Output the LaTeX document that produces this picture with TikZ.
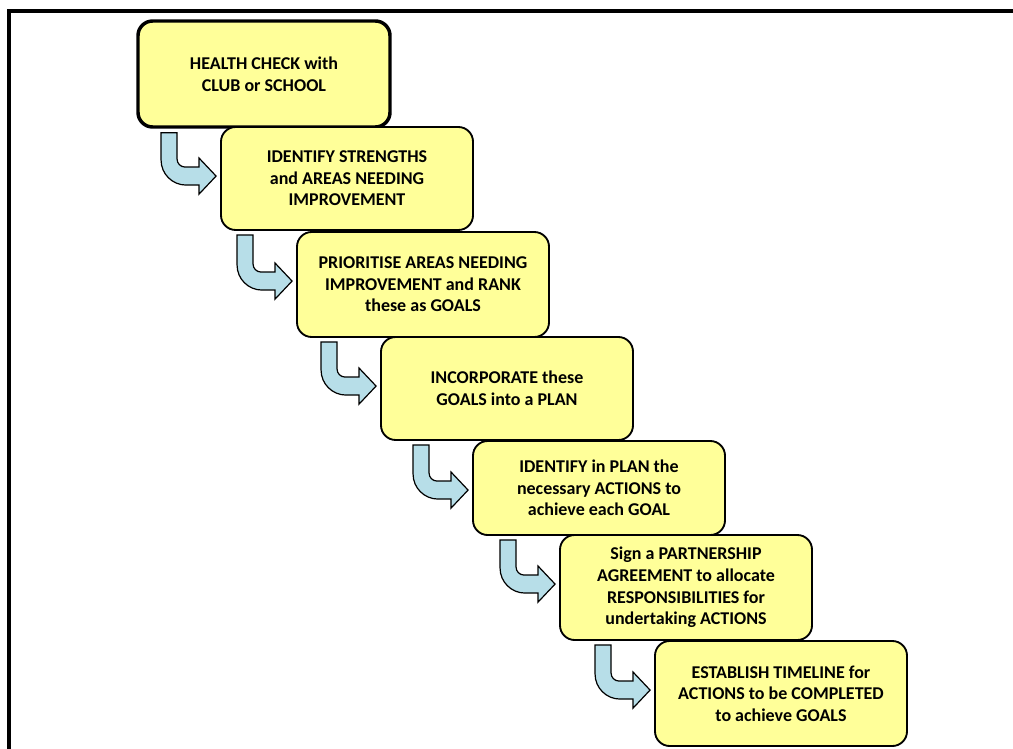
\documentclass[tikz,border=0pt]{standalone}
\usepackage{fontspec}
\setmainfont{Carlito}
\usetikzlibrary{calc}
\definecolor{boxfill}{HTML}{FFFF99}
\definecolor{arrowfill}{HTML}{B7DEE8}
\tikzset{
  stepbox/.style={draw=black, line width=1.4pt, fill=boxfill, rounded corners=11pt,
    minimum width=189pt, align=center, inner sep=2pt,
    font=\fontsize{13.5}{16.2}\selectfont\bfseries},
  firstbox/.style={stepbox, line width=2.6pt},
  arrowsty/.style={draw=black, line width=0.9pt, fill=arrowfill, line join=miter},
  framesty/.style={draw=black, line width=2.6pt}
}
\newcommand\bentarrow[2]{%
  \coordinate (T) at ($(#2.north west)+(-4,50)$);
  \coordinate (S) at ($(#1.south)+(0,4)$);
  \coordinate (X) at ($(T)+(-55,0)$);
  \coordinate (A) at (X |- S);
  \draw[arrowsty] (A) -- ($(A)+(16,0)$) -- ($(X)+(16,-17)$)
    .. controls ($(X)+(16,-12.6)$) and ($(X)+(19.6,-9)$) .. ($(X)+(24,-9)$)
    -- ($(T)+(-17,-9)$) -- ($(T)+(-17,-18)$) -- (T) -- ($(T)+(-17,18)$)
    -- ($(T)+(-17,9)$) -- ($(X)+(25,9)$)
    .. controls ($(X)+(11.2,9)$) and ($(X)+(0,-2.2)$) .. ($(X)+(0,-16)$) -- cycle;
}
\begin{document}
\begin{tikzpicture}[x=0.75pt, y=-0.75pt]
\useasboundingbox (0,0) rectangle (1013,749);
\fill[white] (0,0) rectangle (1013,749);
\draw[framesty] (8.8,760) -- (8.8,10.8) -- (1025,10.8);

\node[firstbox, minimum height=79.5pt] (b1) at (264,74) {HEALTH CHECK with\\CLUB or SCHOOL};
\node[stepbox, minimum height=77.25pt] (b2) at (347,178.5) {IDENTIFY STRENGTHS\\and AREAS NEEDING\\IMPROVEMENT};
\node[stepbox, minimum height=78.75pt] (b3) at (423,284.5) {PRIORITISE AREAS NEEDING\\IMPROVEMENT and RANK\\these as GOALS};
\node[stepbox, minimum height=77.25pt] (b4) at (507,388.5) {INCORPORATE these\\GOALS into a PLAN};
\node[stepbox, minimum height=70.5pt] (b5) at (599,488) {IDENTIFY in PLAN the\\necessary ACTIONS to\\achieve each GOAL};
\node[stepbox, minimum height=78.75pt] (b6) at (686,587.5) {Sign a PARTNERSHIP\\AGREEMENT to allocate\\RESPONSIBILITIES for\\undertaking ACTIONS};
\node[stepbox, minimum height=78.75pt] (b7) at (781,693.5) {ESTABLISH TIMELINE for\\ACTIONS to be COMPLETED\\to achieve GOALS};

\bentarrow{b1}{b2}
\bentarrow{b2}{b3}
\bentarrow{b3}{b4}
\bentarrow{b4}{b5}
\bentarrow{b5}{b6}
\bentarrow{b6}{b7}
\end{tikzpicture}
\end{document}
